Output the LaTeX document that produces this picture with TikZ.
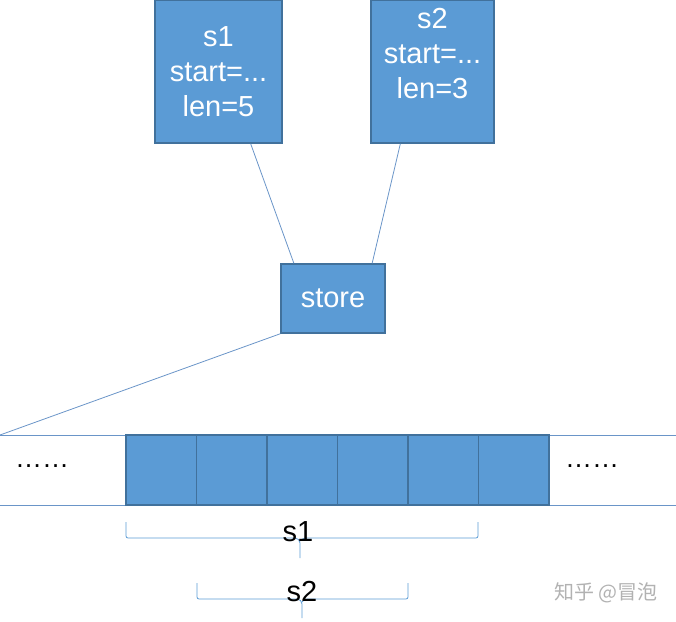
\documentclass[tikz,border=0pt]{standalone}
\usepackage{fontspec}
\setmainfont{Liberation Sans}
\newfontfamily\cjkfont{Noto Sans CJK SC}
\usetikzlibrary{positioning, calc}
\definecolor{cellblue}{HTML}{5B9BD5}
\definecolor{celledge}{HTML}{41719C}
\definecolor{linkblue}{HTML}{6A95C8}

\begin{document}
\begin{tikzpicture}[x=1pt, y=-1pt,
  infobox/.style={draw=celledge, fill=cellblue, line width=1.5pt, text=white,
    font=\fontsize{29}{35}\selectfont, align=center, inner sep=0pt},
  slot/.style={infobox, minimum width=70.5pt, minimum height=70pt},
  link/.style={draw=linkblue, line width=0.8pt},
  bracket/.style={draw=cellblue, line width=0.8pt, rounded corners=2pt},
  tag/.style={font=\fontsize{29}{35}\selectfont, inner sep=0pt}]
  \useasboundingbox (0,0) rectangle (676,621);

  % Slice headers
  \node[infobox, minimum width=127pt, minimum height=143pt] (s1) at (218.5,71.5) {s1\\start=...\\len=5};
  \node[infobox, minimum width=123pt, minimum height=143pt] (s2) at (432.5,71.5) {};
  \node[tag, text=white, align=center] (s2text) at (432.5,54) {s2\\start=...\\len=3};

  % Shared store
  \node[infobox, minimum width=104pt, minimum height=69pt] (store) at (333,298.5) {store};
  \draw[link] (s1.-66) -- (store.138);
  \draw[link] (s2.-114) -- (store.42);

  % Underlying array
  \coordinate (tl) at (0,435);
  \coordinate (tr) at (676,435);
  \coordinate (bl) at (0,505);
  \coordinate (br) at (676,505);
  \draw[link] (tl) -- (tr);
  \draw[link] (bl) -- (br);
  \draw[link] (store.south west) -- (tl);
  \foreach \i in {0,...,5}
    \node[slot] (c\i) at ({161.25+70.5*\i},470) {};
  \node[font=\fontsize{27}{30}\selectfont] (ldots) at (42,466) {……};
  \node[font=\fontsize{27}{30}\selectfont] (rdots) at (592,466) {……};

  % Slice ranges
  \draw[bracket] (126,522) |- (297,538) -- (300,541) -- (300,558);
  \draw[bracket] (300,541) -- (303,538) -| (478,522);
  \node[tag] (s1tag) at (298,532) {s1};
  \draw[bracket] (197,583) |- (299,599) -- (302,602) -- (302,618);
  \draw[bracket] (302,602) -- (305,599) -| (408,583);
  \node[tag] (s2tag) at (302,592) {s2};

  \node[text=black!30, font=\cjkfont\fontsize{20}{24}\selectfont] (mark) at (606,593) {知乎 @冒泡};
\end{tikzpicture}
\end{document}
